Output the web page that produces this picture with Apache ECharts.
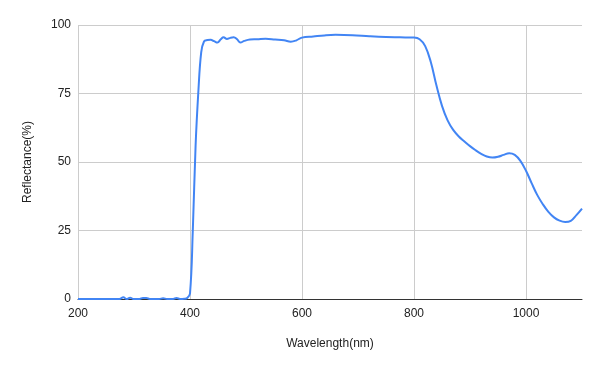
<!DOCTYPE html>
<html>
<head>
<meta charset="utf-8">
<script src="https://cdn.jsdelivr.net/npm/echarts@6/dist/echarts.min.js"></script>
<style>
html,body{margin:0;padding:0;background:#fff;}
#chart{width:600px;height:371px;}
</style>
</head>
<body>
<div id="chart"></div>
<script>
const wavelengths = [200,230,260,274,281,287,293,299,310,316,322,328,345,352,359,370,376,382,390,395,400,405,410,415,420,425,431,437,443,449,455,460,466,472,478,484,490,497,507,520,535,552,568,580,590,600,620,640,660,690,720,750,775,800,810,820,830,840,850,860,870,880,890,900,910,920,930,940,950,960,970,980,990,1000,1010,1020,1030,1040,1050,1060,1070,1080,1090,1100];
const reflectance = [0,0,0,0,0.6,0,0.5,0,0,0.4,0.4,0,0,0.3,0,0,0.4,0,0.1,0.4,2,25,56,76,90,94,94.5,94.6,94.1,93.6,94.8,95.5,94.9,95.3,95.5,94.8,93.6,94.2,94.7,94.8,95,94.7,94.4,93.9,94.4,95.4,95.8,96.2,96.4,96.3,95.9,95.6,95.5,95.4,94.8,92.3,86.5,78,70.5,65.2,61.7,59.3,57.5,55.8,54.3,53,52,51.6,51.9,52.6,53.2,52.6,50.4,46.8,42.3,38,34.6,31.8,29.8,28.6,28.1,28.5,30.6,33];
const xTicks = [200,400,600,800,1000];
const yTicks = [0,25,50,75,100];
const xTitle = 'Wavelength(nm)';
const yTitle = 'Reflectance(%)';

const points = wavelengths.map((w,i)=>[w, reflectance[i]]);
const font = '"Liberation Sans", Arial, sans-serif';
const chart = echarts.init(document.getElementById('chart'), null, {renderer:'canvas'});
chart.setOption({
  animation:false,
  backgroundColor:'#fff',
  grid:{left:78,right:18,top:25,bottom:72,containLabel:false},
  xAxis:{
    type:'value', min:200, max:1100, interval:200,
    name:xTitle, nameLocation:'middle', nameGap:39,
    nameTextStyle:{color:'#222',fontSize:12,fontFamily:font},
    axisLine:{show:true,onZero:false,lineStyle:{color:'#333',width:1}},
    axisTick:{show:false},
    axisLabel:{color:'#222',fontSize:12,fontFamily:font,margin:9,showMaxLabel:false,
      formatter:v=> xTicks.includes(v)? String(v):''},
    splitLine:{show:true,lineStyle:{color:['#ccc','#ccc','#ccc','#ccc','#ccc','rgba(0,0,0,0)'],width:1}}
  },
  yAxis:{
    type:'value', min:0, max:100, interval:25,
    name:yTitle, nameLocation:'middle', nameGap:44,
    nameTextStyle:{color:'#222',fontSize:12,fontFamily:font},
    axisLine:{show:false},
    axisTick:{show:false},
    axisLabel:{color:'#222',fontSize:12,fontFamily:font,margin:7,
      formatter:v=> yTicks.includes(v)? String(v):''},
    splitLine:{show:true,lineStyle:{color:'#ccc',width:1}}
  },
  series:[{
    type:'line', data:points, showSymbol:false, smooth:0.4,
    lineStyle:{color:'#4285F4',width:2}, itemStyle:{color:'#4285F4'}, z:3
  }]
});
</script>
</body>
</html>
